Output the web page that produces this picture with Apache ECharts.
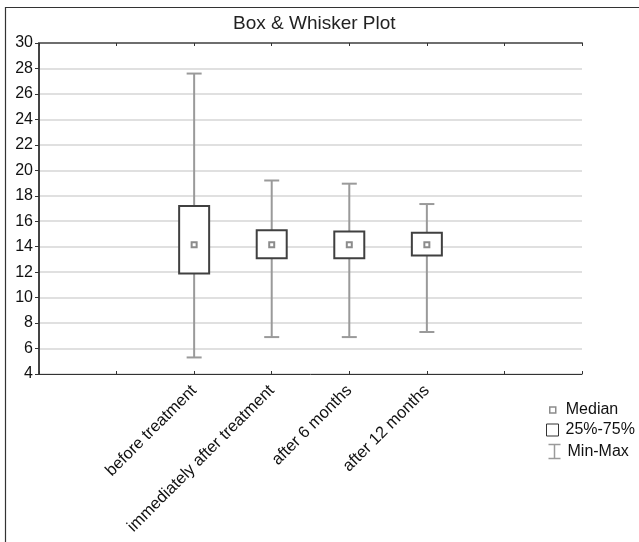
<!DOCTYPE html>
<html>
<head>
<meta charset="utf-8">
<script src="https://cdn.jsdelivr.net/npm/echarts@6/dist/echarts.min.js"></script>
<style>
  html, body { margin: 0; padding: 0; background: #fff; }
  #chart { width: 639px; height: 542px; }
</style>
</head>
<body>
<div id="chart"></div>
<script>
// Groups and their summary statistics
const categories = ['before treatment', 'immediately after treatment', 'after 6 months', 'after 12 months'];
const minValues = [5.3, 6.9, 6.9, 7.3];
const q1Values = [11.9, 13.1, 13.1, 13.3];
const medianValues = [14.15, 14.15, 14.15, 14.15];
const q3Values = [17.2, 15.3, 15.2, 15.1];
const maxValues = [27.6, 19.2, 18.95, 17.35];

// y-axis scale
const yMin = 4, yMax = 30, yStep = 2;

// the x axis has 7 slots; the groups sit on ticks 2..5
const slotCount = 7;
const firstSlot = 2;
const slotOf = i => i + firstSlot;

const FONT = "'Liberation Sans', Arial, sans-serif";
const WHISKER = '#9a9a9a';
const BOX = '#404040';
const MEDIAN = '#8c8c8c';

const whiskerData = categories.map((c, i) => [slotOf(i), minValues[i], maxValues[i]]);
const boxData = categories.map((c, i) => [slotOf(i), q1Values[i], q3Values[i]]);
const medianData = categories.map((c, i) => [slotOf(i), medianValues[i]]);

function renderWhisker(params, api) {
  const x = api.value(0);
  const lo = api.coord([x, api.value(1)]);
  const hi = api.coord([x, api.value(2)]);
  const half = 7.5;
  const style = { stroke: WHISKER, lineWidth: 2, fill: null };
  return {
    type: 'group',
    children: [
      { type: 'line', shape: { x1: lo[0], y1: lo[1], x2: hi[0], y2: hi[1] }, style },
      { type: 'line', shape: { x1: hi[0] - half, y1: hi[1], x2: hi[0] + half, y2: hi[1] }, style },
      { type: 'line', shape: { x1: lo[0] - half, y1: lo[1], x2: lo[0] + half, y2: lo[1] }, style }
    ]
  };
}

function renderBox(params, api) {
  const x = api.value(0);
  const bottom = api.coord([x, api.value(1)]);
  const top = api.coord([x, api.value(2)]);
  const w = 30;
  return {
    type: 'rect',
    shape: { x: top[0] - w / 2, y: top[1], width: w, height: bottom[1] - top[1] },
    style: { fill: '#fff', stroke: BOX, lineWidth: 2 }
  };
}

function renderMedian(params, api) {
  const p = api.coord([api.value(0), api.value(1)]);
  const s = 5;
  return {
    type: 'rect',
    shape: { x: p[0] - s / 2, y: p[1] - s / 2, width: s, height: s },
    style: { fill: '#fff', stroke: MEDIAN, lineWidth: 2 }
  };
}

const legendText = { fontFamily: FONT, fontSize: 16, color: '#111' };

const chart = echarts.init(document.getElementById('chart'), null, { renderer: 'canvas' });
chart.setOption({
  animation: false,
  backgroundColor: '#fff',
  textStyle: { fontFamily: FONT },
  title: {
    text: 'Box & Whisker Plot',
    left: 233,
    top: 14,
    padding: 0,
    textStyle: { fontFamily: FONT, fontSize: 19, fontWeight: 'normal', color: '#222' }
  },
  graphic: [{
    type: 'polyline',
    silent: true,
    shape: { points: [[5.5, 560], [5.5, 7.5], [660, 7.5]] },
    style: { stroke: '#333', lineWidth: 1.2, fill: null }
  }],
  legend: [
    {
      data: [{ name: 'Median', icon: 'rect', itemStyle: { color: '#fff', borderColor: MEDIAN, borderWidth: 1.5 } }],
      left: 549, top: 402, padding: 0, itemWidth: 6, itemHeight: 6,
      selectedMode: false,
      textStyle: Object.assign({ padding: [0, 0, 0, 5] }, legendText)
    },
    {
      data: [{ name: '25%-75%', icon: 'rect', itemStyle: { color: '#fff', borderColor: '#333', borderWidth: 1 } }],
      left: 546, top: 422, padding: 0, itemWidth: 12, itemHeight: 12,
      selectedMode: false,
      textStyle: Object.assign({ padding: [0, 0, 0, 2] }, legendText)
    },
    {
      data: [{
        name: 'Min-Max',
        icon: 'path://M0,0 L12,0 M6,0 L6,14 M0,14 L12,14',
        itemStyle: { color: 'none', borderColor: WHISKER, borderWidth: 1.5 }
      }],
      left: 546, top: 442, padding: 0, itemWidth: 12, itemHeight: 14,
      selectedMode: false,
      textStyle: Object.assign({ padding: [0, 0, 0, 2] }, legendText)
    }
  ],
  grid: { left: 39, right: 57, top: 43, bottom: 168, outerBoundsMode: 'none' },
  xAxis: [
    {
      type: 'value', position: 'bottom', min: 0, max: slotCount, interval: 1,
      axisLine: { show: true, lineStyle: { color: '#333', width: 1 } },
      axisTick: { show: true, inside: true, length: 3, lineStyle: { color: '#333' } },
      splitLine: { show: false },
      axisLabel: {
        rotate: 45, margin: 14, fontSize: 16.5, color: '#111', fontFamily: FONT,
        formatter: v => categories[v - firstSlot] || ''
      }
    },
    {
      type: 'value', position: 'top', min: 0, max: slotCount, interval: 1,
      axisLine: { show: true, lineStyle: { color: '#6e6e6e', width: 2 } },
      axisTick: { show: true, inside: true, length: 3, lineStyle: { color: '#333' } },
      splitLine: { show: false },
      axisLabel: { show: false }
    }
  ],
  yAxis: [
    {
      type: 'value', position: 'left', min: yMin, max: yMax, interval: yStep,
      axisLine: { show: true, lineStyle: { color: '#333', width: 1 } },
      axisTick: { show: true, inside: false, length: 4, lineStyle: { color: '#333' } },
      splitLine: { show: true, lineStyle: { color: '#d6d6d6', width: 1.5 } },
      axisLabel: { margin: 6, fontSize: 16, color: '#111', fontFamily: FONT }
    },
    {
      type: 'value', position: 'right', min: yMin, max: yMax, interval: yStep,
      axisLine: { show: true, lineStyle: { color: '#444', width: 2 } },
      axisTick: { show: true, inside: true, length: 4, lineStyle: { color: '#333' } },
      splitLine: { show: false },
      axisLabel: { show: false }
    }
  ],
  series: [
    {
      name: 'Min-Max', type: 'custom', xAxisIndex: 0, yAxisIndex: 0,
      renderItem: renderWhisker, data: whiskerData, encode: { x: 0, y: [1, 2] }, z: 2
    },
    {
      name: '25%-75%', type: 'custom', xAxisIndex: 0, yAxisIndex: 0,
      renderItem: renderBox, data: boxData, encode: { x: 0, y: [1, 2] }, z: 3
    },
    {
      name: 'Median', type: 'custom', xAxisIndex: 0, yAxisIndex: 0,
      renderItem: renderMedian, data: medianData, encode: { x: 0, y: 1 }, z: 4
    }
  ]
});
</script>
</body>
</html>
